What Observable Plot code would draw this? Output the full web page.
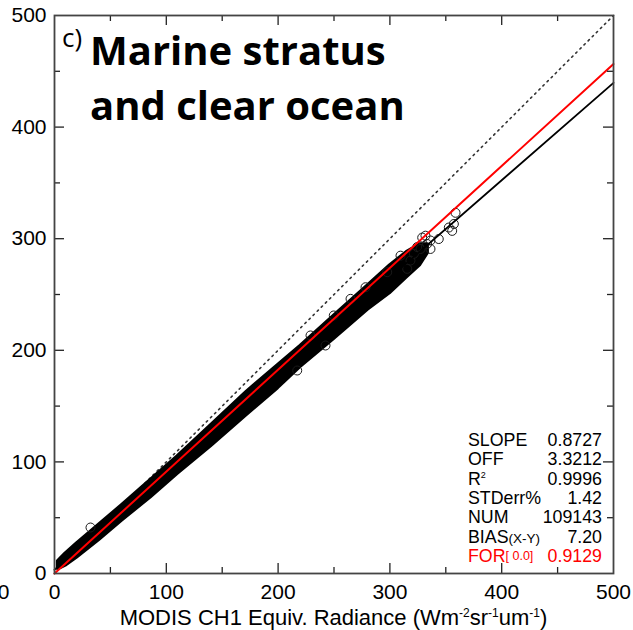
<!DOCTYPE html>
<html>
<head>
<meta charset="utf-8">
<script src="https://cdn.jsdelivr.net/npm/d3@7"></script>
<script src="https://cdn.jsdelivr.net/npm/@observablehq/plot@0.6"></script>
<style>
  html, body { margin: 0; padding: 0; background: #fff; }
</style>
</head>
<body>
<div id="chart"></div>
<script>
// ---- data ----
const tickLabels = [0, 100, 200, 300, 400, 500];
const tickMajor = [100, 200, 300, 400];
const tickMinor = [50, 150, 250, 350, 450];

// regression statistics (as printed on the chart)
const statLabels = ["SLOPE", "OFF", "R²", "STDerr%", "NUM", "BIAS(X-Y)", "FOR[ 0.0]"];
const statValues = ["0.8727", "3.3212", "0.9996", "1.42", "109143", "7.20", "0.9129"];
const fitSlope = 0.8727, fitOff = 3.3212, forcedSlope = 0.9129;

// envelope of the dense point cloud (x, lower y, upper y)
const bandX    = [3, 6, 10, 20, 40, 60, 86, 110, 140, 172, 200, 220, 250, 280, 300, 315, 327, 334];
const bandLow  = [4, 5, 7, 14, 30, 47, 68, 89, 114, 142, 166, 185, 210, 236, 251, 265, 276, 287];
const bandHigh = [11, 14, 18, 27, 44, 61, 84, 105, 133, 163, 187, 204, 231, 258, 276, 288, 295, 295];

// individual circles visible at the cloud's edges and upper end
const ptX = [32.2, 217.1, 229.0, 242.4, 249.8, 264.8, 278.2, 297.6, 309.5, 315.5, 318.4, 321.4, 324.4, 327.4, 328.9, 331.8, 333.3, 336.3, 336.3, 343.7, 352.7, 355.7, 357.2, 358.7];
const ptY = [41.2, 181.9, 213.3, 204.3, 231.2, 246.1, 256.5, 270.0, 284.8, 273.0, 280.4, 286.5, 292.5, 290.8, 301.0, 302.7, 295.3, 290.8, 298.4, 299.7, 310.0, 307.0, 313.2, 323.2];

// ---- layout ----
const W = 633, H = 630;
const mL = 54, mR = 20, mT = 15, mB = 57;
const pxX = (W - mL - mR) / 500, pxY = (H - mT - mB) / 500;
const majLen = 10, minLen = 6;

const band = bandX.map((x, i) => ({x, lo: bandLow[i], hi: bandHigh[i]}));
const pts = ptX.map((x, i) => ({x, y: ptY[i]}));
const lineX = [0, 500];
const fitLine = lineX.map(x => ({x, y: fitSlope * x + fitOff}));
const forLine = lineX.map(x => ({x, y: forcedSlope * x}));
const oneLine = lineX.map(x => ({x, y: x}));

function sideTicks(vals, len) {
  const lx = len / pxX, ly = len / pxY;
  return [
    Plot.ruleX(vals, {x: d => d, y1: 0, y2: ly, stroke: "#222", strokeWidth: 1.3}),
    Plot.ruleX(vals, {x: d => d, y1: 500 - ly, y2: 500, stroke: "#222", strokeWidth: 1.3}),
    Plot.ruleY(vals, {y: d => d, x1: 0, x2: lx, stroke: "#222", strokeWidth: 1.3}),
    Plot.ruleY(vals, {y: d => d, x1: 500 - lx, x2: 500, stroke: "#222", strokeWidth: 1.3})
  ];
}

const svg = Plot.plot({
  width: W, height: H,
  marginLeft: mL, marginRight: mR, marginTop: mT, marginBottom: mB,
  style: {fontFamily: "'Liberation Sans', Arial, Helvetica, sans-serif", fontSize: "21px", color: "#000", background: "#fff"},
  x: {domain: [0, 500], ticks: tickLabels, tickSize: 0, tickPadding: 11, tickFormat: d => String(d), label: null},
  y: {domain: [0, 500], ticks: tickLabels, tickSize: 0, tickPadding: 8, tickFormat: d => String(d), label: null},
  marks: [
    Plot.line(oneLine, {x: "x", y: "y", stroke: "#333", strokeWidth: 1.6, strokeDasharray: "1.6,4.2"}),
    Plot.areaY(band, {x: "x", y1: "lo", y2: "hi", fill: "#000", stroke: "#000", strokeWidth: 3, strokeLinejoin: "round"}),
    Plot.dot(pts, {x: "x", y: "y", r: 4.5, stroke: "#1a1a1a", strokeWidth: 1, fill: "none"}),
    Plot.line(fitLine, {x: "x", y: "y", stroke: "#000", strokeWidth: 1.8}),
    Plot.line(forLine, {x: "x", y: "y", stroke: "#ff0000", strokeWidth: 2}),
    ...sideTicks(tickMajor, majLen),
    ...sideTicks(tickMinor, minLen),
    Plot.frame({stroke: "#444", strokeWidth: 1.8}),
    Plot.text(["500"], {frameAnchor: "bottom-left", text: d => d, dx: -45, dy: 11, lineAnchor: "top", textAnchor: "end", fontSize: 21})
  ]
});

const root = d3.select(svg);
const sx = svg.scale("x"), sy = svg.scale("y");

// title
const title = root.append("g").attr("fill", "#000").attr("text-anchor", "start");
title.append("text").attr("x", sx.apply(0) + 8).attr("y", 47).attr("text-anchor", "start")
  .attr("font-family", "'Open Sans', sans-serif").attr("font-size", 26).text("c)");
title.append("text").attr("x", 90).attr("y", 65).attr("text-anchor", "start")
  .attr("font-family", "'Open Sans', sans-serif").attr("font-weight", 700).attr("font-size", 40).text("Marine stratus");
title.append("text").attr("x", 90).attr("y", 120).attr("text-anchor", "start")
  .attr("font-family", "'Open Sans', sans-serif").attr("font-weight", 700).attr("font-size", 40).text("and clear ocean");

// x axis label with superscripts
const xl = root.append("text")
  .attr("x", (sx.apply(0) + sx.apply(500)) / 2).attr("y", 625)
  .attr("text-anchor", "middle").attr("font-size", 22).attr("fill", "#000")
  .attr("font-family", "'Liberation Sans', Arial, sans-serif");
const parts = [["MODIS CH1 Equiv. Radiance (Wm", 0], ["-2", 1], ["sr", 0], ["-1", 1], ["um", 0], ["-1", 1], [")", 0]];
parts.forEach(([t, sup], i) => {
  const ts = xl.append("tspan").text(t);
  if (sup) ts.attr("font-size", 12).attr("dy", -8);
  else if (i > 0 && parts[i - 1][1]) ts.attr("dy", 8);
});

// statistics block
const stats = root.append("g").attr("font-family", "'Liberation Sans', Arial, sans-serif").attr("font-size", 17.8);
const labX = 468, valX = 602, base0 = 446, rowH = 19.3;
statLabels.forEach((lab, i) => {
  const col = i === statLabels.length - 1 ? "#ff0000" : "#000";
  const y = base0 + i * rowH;
  const t = stats.append("text").attr("x", labX).attr("y", y).attr("fill", col).attr("text-anchor", "start");
  let m;
  if ((m = lab.match(/^(R)²$/))) {
    t.append("tspan").text(m[1]);
    t.append("tspan").text("2").attr("font-size", 9).attr("dy", -7);
  } else if ((m = lab.match(/^(BIAS)(\(.*\))$/))) {
    t.append("tspan").text(m[1]);
    t.append("tspan").text(m[2]).attr("font-size", 13.5);
  } else if ((m = lab.match(/^(FOR)(\[.*\])$/))) {
    t.append("tspan").text(m[1]);
    t.append("tspan").text(m[2]).attr("font-size", 12.5).attr("dy", -2);
  } else {
    t.text(lab);
  }
  stats.append("text").attr("x", valX).attr("y", y).attr("text-anchor", "end").attr("fill", col).text(statValues[i]);
});

document.getElementById("chart").appendChild(svg);
</script>
</body>
</html>
